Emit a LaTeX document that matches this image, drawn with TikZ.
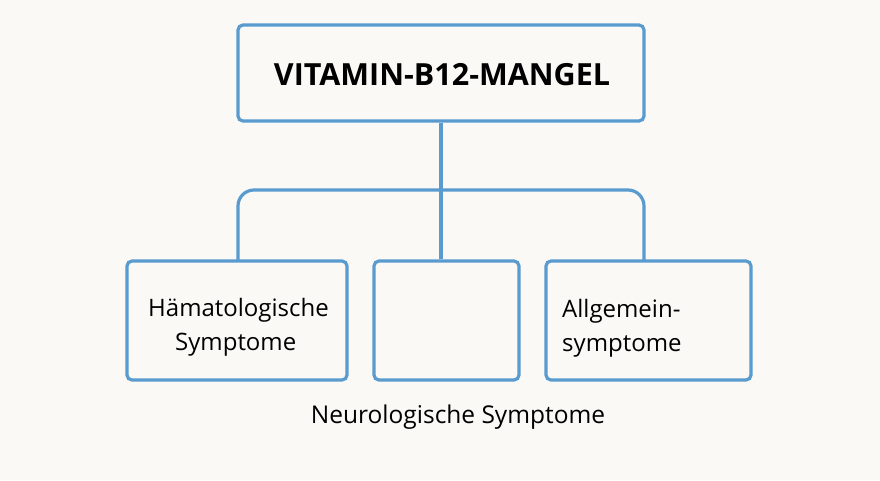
\documentclass[tikz,border=0pt]{standalone}
\usepackage{fontspec}
\setmainfont{Open Sans}
\begin{document}
\begin{tikzpicture}[x=1pt,y=-1pt,
  box/.style={draw=bl,line width=3.2pt,rounded corners=5pt,fill=bg},
  ln/.style={draw=bl,line width=3.2pt,rounded corners=16pt},
  tx/.style={font=\fontsize{24}{34}\selectfont,anchor=west,align=left}]
\definecolor{bl}{HTML}{5A9BCF}
\definecolor{bg}{HTML}{FAF9F5}
\fill[bg] (0,0) rectangle (880,480);
\useasboundingbox (0,0) rectangle (880,480);
\node[box,minimum width=406pt,minimum height=96pt] (top) at (441,73) {};
\node[font=\fontsize{30.5}{34}\selectfont\bfseries,inner sep=0pt] (tt) at (442,75) {VITAMIN-B12-MANGEL};
\node[box,minimum width=220pt,minimum height=119pt] (l) at (237,320.5) {};
\node[box,minimum width=145pt,minimum height=119pt] (m) at (446.5,320.5) {};
\node[box,minimum width=205pt,minimum height=119pt] (r) at (648.5,320.5) {};
\node[tx,inner sep=0pt] (lt) at (148,327) {Hämatologische\\\hspace*{27pt}Symptome};
\node[tx,inner sep=0pt] (rt) at (562,328) {Allgemein-\\symptome};
\draw[ln] (top.south) -- (top.south |- m.north);
\draw[ln] (238,261) -- (238,190) -- (644,190) -- (644,261);
\node[font=\fontsize{24.5}{28}\selectfont] (lab) at (458,417) {Neurologische Symptome};
\end{tikzpicture}
\end{document}
